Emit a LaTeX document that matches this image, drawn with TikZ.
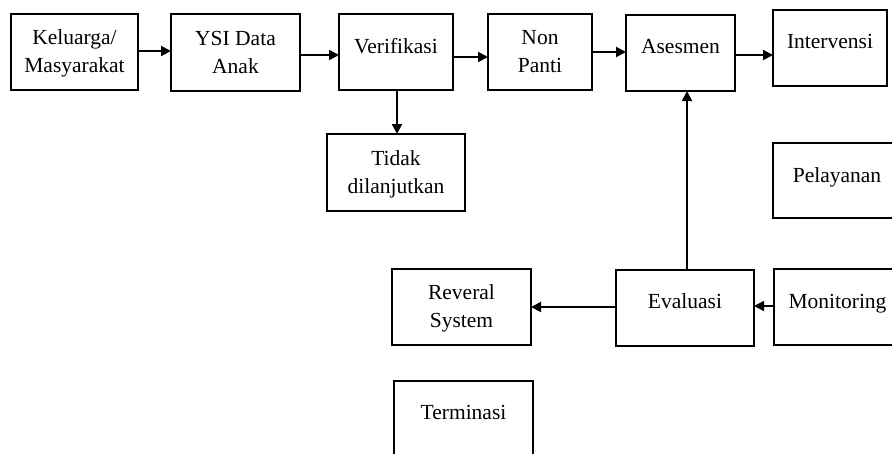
\documentclass[tikz,border=0pt]{standalone}
\usepackage{fontspec}
\setmainfont{Liberation Serif}
\usetikzlibrary{arrows.meta}
\begin{document}
\begin{tikzpicture}[x=1pt,y=-1pt,
  box/.style={draw=black, line width=2pt, rectangle, inner sep=0pt, outer sep=0pt},
  lbl/.style={font=\fontsize{21.5}{27.5}\selectfont, inner sep=0pt, anchor=base, align=center, text=black},
  arr/.style={line width=2pt, -{Triangle[length=10pt,width=10pt]}}]
\useasboundingbox (0,0) rectangle (892,453);
\clip (0,0) rectangle (892,453);
\fill[white] (0,0) rectangle (892,453);
% boxes
\node[box, minimum width=127, minimum height=76] (k) at (74.5,52) {};
\node[box, minimum width=129, minimum height=77] (y) at (235.5,52.5) {};
\node[box, minimum width=114, minimum height=76] (v) at (396,52) {};
\node[box, minimum width=138, minimum height=77] (t) at (396,172.5) {};
\node[box, minimum width=104, minimum height=76] (n) at (540,52) {};
\node[box, minimum width=109, minimum height=76] (a) at (680.5,53) {};
\node[box, minimum width=114, minimum height=76] (i) at (830,48) {};
\node[box, minimum width=128, minimum height=75] (p) at (837,180.5) {};
\node[box, minimum width=139, minimum height=76] (r) at (461.5,307) {};
\node[box, minimum width=138, minimum height=76] (e) at (685,308) {};
\node[box, minimum width=128, minimum height=76] (m) at (838,307) {};
\node[box, minimum width=139, minimum height=76] (te) at (463.5,419) {};
% labels (base = baseline of last line)
\node[lbl] (kl) at (74.5,72) {Keluarga/\\Masyarakat};
\node[lbl] (yl) at (235.5,73) {YSI Data\\Anak};
\node[lbl] (vl) at (396,53) {Verifikasi};
\node[lbl] (tl) at (396,193) {Tidak\\dilanjutkan};
\node[lbl] (nl) at (540,72) {Non\\Panti};
\node[lbl] (al) at (680.5,53) {Asesmen};
\node[lbl] (il) at (830,48) {Intervensi};
\node[lbl] (pl) at (837,182) {Pelayanan};
\node[lbl] (rl) at (461.5,327) {Reveral\\System};
\node[lbl] (el) at (685,308) {Evaluasi};
\node[lbl] (ml) at (837.5,308) {Monitoring};
\node[lbl] (tel) at (463.5,419) {Terminasi};
% connectors
\draw[arr] ([yshift=1pt]k.east) -- ([yshift=1pt]k.east -| y.west);
\draw[arr] ([yshift=-2.5pt]y.east) -- ([yshift=-2.5pt]y.east -| v.west);
\draw[arr] ([yshift=-5pt]v.east) -- ([yshift=-5pt]v.east -| n.west);
\draw[arr] (n.east) -- (n.east -| a.west);
\draw[arr] ([yshift=-2pt]a.east) -- ([yshift=-2pt]a.east -| i.west);
\draw[arr] ([xshift=1pt]v.south) -- ([xshift=1pt]v.south |- t.north);
\draw[arr] ([xshift=2pt]e.north) -- ([xshift=2pt]e.north |- a.south);
\draw[arr] ([yshift=1pt]e.west) -- ([yshift=1pt]e.west -| r.east);
\draw[arr, line width=1.5pt] ([yshift=1pt]m.west) -- ([yshift=1pt]m.west -| e.east);
\end{tikzpicture}
\end{document}
